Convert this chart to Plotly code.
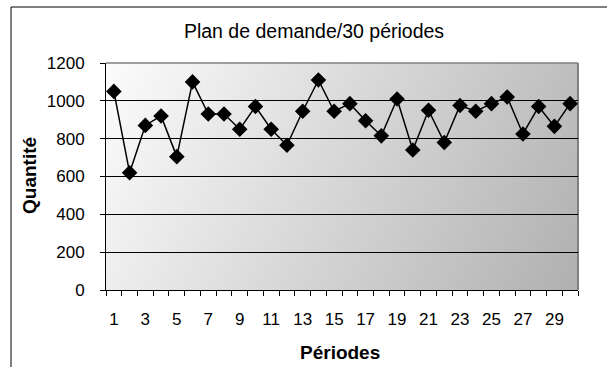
import base64
import plotly.graph_objects as go

periods = list(range(1, 31))
demand = [1050, 620, 870, 920, 705, 1100, 930, 930, 850, 970,
          850, 765, 945, 1110, 945, 985, 895, 815, 1010, 740,
          950, 780, 975, 945, 985, 1020, 825, 970, 865, 985]
y_ticks = [0, 200, 400, 600, 800, 1000, 1200]
x_labels = list(range(1, 30, 2))

W, H = 607, 367
L, R, T, B = 106, 578, 63, 290

svg = ('<svg xmlns="http://www.w3.org/2000/svg" width="472" height="227" '
       'preserveAspectRatio="none" viewBox="0 0 472 227">'
       '<defs><linearGradient id="g" gradientUnits="userSpaceOnUse" '
       'x1="0" y1="0" x2="472" y2="227">'
       '<stop offset="0" stop-color="#fcfcfc"/>'
       '<stop offset="1" stop-color="#b0b0b0"/></linearGradient></defs>'
       '<rect width="472" height="227" fill="url(#g)"/></svg>')
src = "data:image/svg+xml;base64," + base64.b64encode(svg.encode()).decode()

font = "Liberation Sans, Arial, sans-serif"

fig = go.Figure()
fig.add_trace(go.Scatter(
    x=periods, y=demand, mode="lines+markers",
    line=dict(color="black", width=1.5),
    marker=dict(symbol="diamond", size=12, color="black"),
    showlegend=False, cliponaxis=False,
))

px = lambda v: (v - L) / (R - L)
py = lambda v: (B - v) / (B - T)

fig.update_layout(
    width=W, height=H,
    margin=dict(l=L, r=W - R, t=T, b=H - B, pad=0, autoexpand=False),
    paper_bgcolor="white", plot_bgcolor="rgba(0,0,0,0)",
    title=dict(text="Plan de demande/30 périodes", x=(314) / W, xanchor="center",
               y=1 - 31 / H, yanchor="middle",
               font=dict(family=font, size=19.5, color="black")),
    font=dict(family=font, color="black"),
    images=[dict(source=src, xref="paper", yref="paper", x=0, y=1,
                 sizex=1, sizey=1, sizing="stretch", layer="below")],
    xaxis=dict(range=[0.5, 30.5], tickmode="array", tickvals=x_labels,
               ticktext=[str(v) for v in x_labels], ticks="", showgrid=False,
               zeroline=False, showline=True, linecolor="black", linewidth=1,
               automargin=False,
               tickfont=dict(size=17, family=font), ticklabelstandoff=14,
               minor=dict(tickmode="linear", tick0=0.5, dtick=1, ticks="outside",
                          ticklen=5, tickcolor="black", tickwidth=1, showgrid=False)),
    yaxis=dict(range=[0, 1200], tickvals=y_ticks, ticks="outside", ticklen=5,
               tickcolor="black", showgrid=True, gridcolor="black", gridwidth=1,
               zeroline=False, showline=True, linecolor="black", linewidth=1,
               automargin=False,
               tickfont=dict(size=17, family=font), ticklabelstandoff=12),
    annotations=[
        dict(text="<b>Périodes</b>", xref="paper", yref="paper",
             x=px(340), y=py(352), xanchor="center", yanchor="middle",
             showarrow=False, font=dict(size=19, family=font, color="black")),
        dict(text="<b>Quantité</b>", xref="paper", yref="paper", textangle=-90,
             x=px(29), y=py(176), xanchor="center", yanchor="middle",
             showarrow=False, font=dict(size=19, family=font, color="black")),
    ],
    shapes=[
        dict(type="line", xref="paper", yref="paper", x0=0, x1=1, y0=1, y1=1,
             line=dict(color="#808080", width=1.5), layer="above"),
        dict(type="line", xref="paper", yref="paper", x0=1, x1=1, y0=0, y1=1,
             line=dict(color="#808080", width=2), layer="between"),
        dict(type="line", xref="paper", yref="paper", x0=px(11), x1=px(11),
             y0=py(7), y1=py(400), line=dict(color="black", width=1), layer="above"),
        dict(type="line", xref="paper", yref="paper", x0=px(11), x1=px(700),
             y0=py(7), y1=py(7), line=dict(color="black", width=1), layer="above"),
    ],
)

fig.write_html("out.html", config={"displayModeBar": False},
               post_script="document.body.style.margin='0';document.body.style.overflow='hidden';")
